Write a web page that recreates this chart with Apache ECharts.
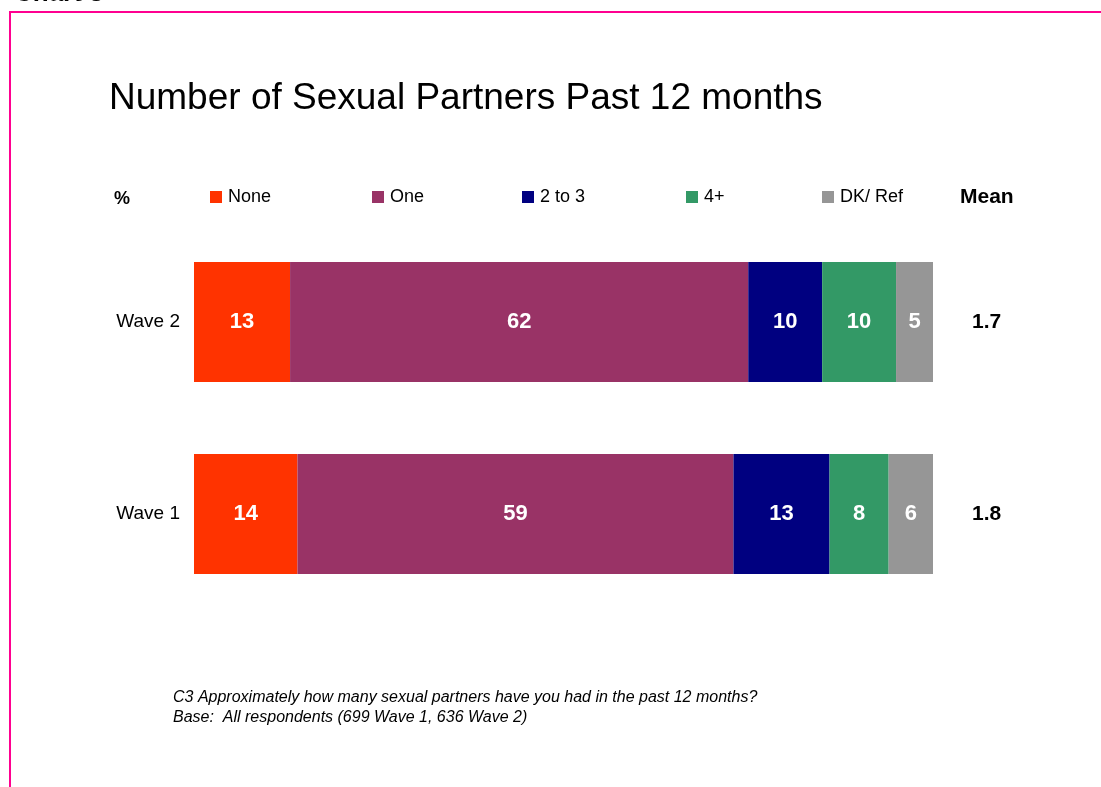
<!DOCTYPE html>
<html>
<head>
<meta charset="utf-8">
<script src="https://cdn.jsdelivr.net/npm/echarts@6/dist/echarts.min.js"></script>
<style>
  html, body { margin: 0; padding: 0; background: #fff; }
  #chart { width: 1101px; height: 787px; }
</style>
</head>
<body>
<div id="chart"></div>
<script>
// Waves shown top to bottom
const waves = ['Wave 1', 'Wave 2'];
// Share of respondents (%) per answer group, in wave order
const noneVals = [14, 13];
const oneVals = [59, 62];
const twoToThreeVals = [13, 10];
const fourPlusVals = [8, 10];
const dkRefVals = [6, 5];
// Mean number of partners per wave
const means = ['1.8', '1.7'];

const groups = [
  { name: 'None', data: noneVals, color: '#FF3300', legendLeft: 210 },
  { name: 'One', data: oneVals, color: '#993366', legendLeft: 372 },
  { name: '2 to 3', data: twoToThreeVals, color: '#000080', legendLeft: 522 },
  { name: '4+', data: fourPlusVals, color: '#339966', legendLeft: 686 },
  { name: 'DK/ Ref', data: dkRefVals, color: '#969696', legendLeft: 822 }
];

const font = '"Liberation Sans", Arial, sans-serif';
const chart = echarts.init(document.getElementById('chart'));

chart.setOption({
  animation: false,
  backgroundColor: '#fff',
  textStyle: { fontFamily: font },
  title: {
    text: 'Number of Sexual Partners Past 12 months',
    left: 104,
    top: 75,
    textStyle: { fontSize: 37, fontWeight: 'normal', color: '#000', fontFamily: font }
  },
  legend: groups.map(g => ({
    data: [g.name],
    left: g.legendLeft,
    top: 188,
    itemWidth: 12,
    itemHeight: 12,
    itemGap: 0,
    icon: 'rect',
    padding: 0,
    selectedMode: false,
    textStyle: { fontSize: 18, color: '#000', fontFamily: font, padding: [0, 0, 0, 1] }
  })),
  grid: { left: 194, width: 739, top: 226, height: 384 },
  xAxis: {
    type: 'value', min: 0, max: 100, show: false
  },
  yAxis: [
    {
      type: 'category', data: waves,
      axisLine: { show: false }, axisTick: { show: false },
      axisLabel: { fontSize: 19, color: '#000', margin: 14, fontFamily: font, padding: [4, 0, 0, 0] }
    },
    {
      type: 'category', data: waves, position: 'right',
      axisLine: { show: false }, axisTick: { show: false },
      axisLabel: {
        fontSize: 21, fontWeight: 'bold', color: '#000', margin: 39, fontFamily: font,
        padding: [2, 0, 0, 0],
        formatter: (v, i) => means[i]
      }
    }
  ],
  series: groups.map(g => ({
    name: g.name,
    type: 'bar',
    stack: 'total',
    barWidth: 120,
    data: g.data,
    itemStyle: { color: g.color },
    label: {
      show: true,
      position: 'inside',
      color: '#fff',
      fontSize: 22,
      fontWeight: 'bold',
      fontFamily: font,
      padding: [4, 0, 0, 0]
    }
  })),
  graphic: [
    // page frame
    { type: 'polyline', shape: { points: [[10, 787], [10, 12], [1101, 12]] },
      style: { stroke: '#FF0090', lineWidth: 2, fill: null } },
    { type: 'text', left: 14, top: -19,
      style: { text: 'Chart 3', font: 'bold 26px ' + font, fill: '#000' } },
    { type: 'text', left: 114, top: 190,
      style: { text: '%', font: 'bold 18px ' + font, fill: '#000' } },
    { type: 'text', left: 960, top: 187,
      style: { text: 'Mean', font: 'bold 21px ' + font, fill: '#000' } },
    { type: 'text', left: 173, top: 688,
      style: { text: 'C3 Approximately how many sexual partners have you had in the past 12 months?\nBase:  All respondents (699 Wave 1, 636 Wave 2)',
        font: 'italic 16px ' + font, fill: '#000', lineHeight: 20 } }
  ]
});
</script>
</body>
</html>
